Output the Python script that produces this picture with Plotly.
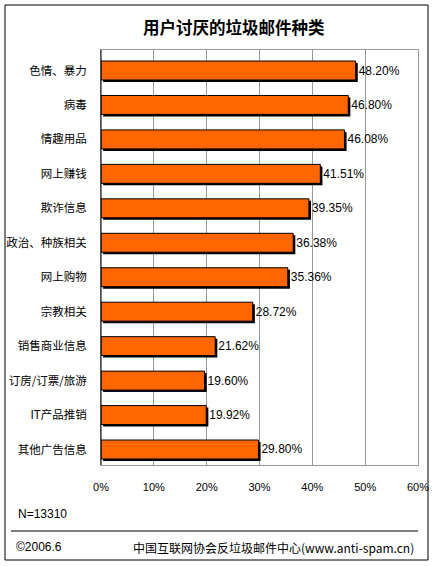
import plotly.graph_objects as go

# data
categories = ["色情、暴力", "病毒", "情趣用品", "网上赚钱", "欺诈信息", "政治、种族相关",
              "网上购物", "宗教相关", "销售商业信息", "订房/订票/旅游", "IT产品推销", "其他广告信息"]
values = [48.20, 46.80, 46.08, 41.51, 39.35, 36.38, 35.36, 28.72, 21.62, 19.60, 19.92, 29.80]
labels = [f"{v:.2f}%" for v in values]
x_ticks = [0, 10, 20, 30, 40, 50, 60]
x_ticktext = [f"{t}%" for t in x_ticks]

TITLE = "用户讨厌的垃圾邮件种类"
NOTE = "N=13310"
COPY = "©2006.6"
SOURCE = "中国互联网协会反垃圾邮件中心(www.anti-spam.cn)"

ORANGE = "#ff6600"
GRID = "#999999"
CJK = '"Noto Sans CJK SC", sans-serif'
LATIN = '"Liberation Sans", Arial, sans-serif'

W, H = 436, 566
L, R, T, B = 101, 18, 50, 101  # plot-area margins in px


def px(x):
    return (x - L) / (W - L - R)


def py(y):
    return (H - B - y) / (H - T - B)


bar_w = 0.55
fig = go.Figure()
# drop shadow, a couple of px right and down
fig.add_trace(go.Bar(
    y=categories, x=values, base=0.4, orientation="h",
    width=bar_w, offset=-bar_w / 2 + 0.058,
    marker=dict(color="black", line=dict(width=0)),
    hoverinfo="skip",
))
fig.add_trace(go.Bar(
    y=categories, x=values, orientation="h",
    width=bar_w,
    marker=dict(color=ORANGE, line=dict(color="black", width=1)),
    text=labels, textposition="outside", cliponaxis=False,
    textfont=dict(family=LATIN, size=12, color="black"),
    constraintext="none",
))

fig.update_layout(
    width=W, height=H,
    margin=dict(l=L, r=R, t=T, b=B, autoexpand=False),
    paper_bgcolor="white", plot_bgcolor="white",
    barmode="overlay", showlegend=False,
    font=dict(family=CJK, size=12, color="black"),
    xaxis=dict(range=[0, 60], tickmode="array", tickvals=x_ticks, ticktext=x_ticktext,
               showgrid=True, gridcolor=GRID, gridwidth=1, automargin=False,
               zeroline=False, showline=True, linecolor=GRID, mirror=True,
               ticks="", ticklabelstandoff=12,
               tickfont=dict(family=LATIN, size=11, color="black")),
    yaxis=dict(range=[11.45, -0.595], showgrid=False, zeroline=False, automargin=False,
               showline=True, linecolor=GRID, mirror=True, ticks="",
               ticklabelstandoff=11,
               tickfont=dict(family=CJK, size=11.5, color="black")),
)

# frame, separator and black value axis
fig.add_shape(type="rect", xref="paper", yref="paper",
              x0=px(5), x1=px(428), y0=py(560), y1=py(5),
              line=dict(color="black", width=1))
fig.add_shape(type="line", xref="paper", yref="paper",
              x0=px(11), x1=px(418), y0=py(531), y1=py(531),
              line=dict(color="black", width=1))
fig.add_shape(type="line", xref="paper", yref="paper",
              x0=0, x1=0, y0=0, y1=1,
              line=dict(color="black", width=1))

fig.add_annotation(text=f"<b>{TITLE}</b>", xref="paper", yref="paper",
                   x=px(234), y=py(27), showarrow=False, xanchor="center", yanchor="middle",
                   font=dict(family=CJK, size=16.5, color="black"))
fig.add_annotation(text=NOTE, xref="paper", yref="paper",
                   x=px(16), y=py(514), showarrow=False, xanchor="left", yanchor="middle",
                   font=dict(family=LATIN, size=12, color="black"))
fig.add_annotation(text=COPY, xref="paper", yref="paper",
                   x=px(14), y=py(547), showarrow=False, xanchor="left", yanchor="middle",
                   font=dict(family=LATIN, size=12, color="black"))
fig.add_annotation(text=SOURCE, xref="paper", yref="paper",
                   x=px(416), y=py(547), showarrow=False, xanchor="right", yanchor="middle",
                   font=dict(family=CJK, size=12, color="black"))

fig.write_html("out.html", config={"displayModeBar": False},
               post_script="document.body.style.margin='0';")
